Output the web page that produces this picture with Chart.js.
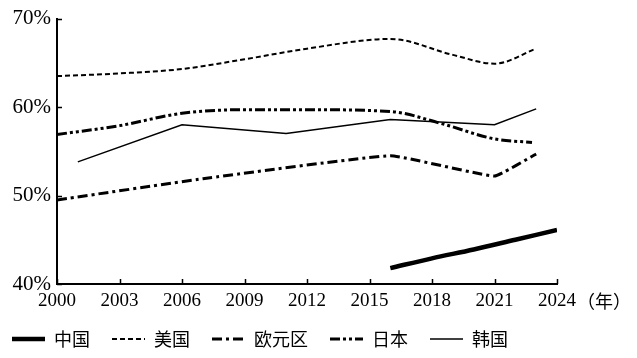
<!DOCTYPE html>
<html>
<head>
<meta charset="utf-8">
<script src="https://cdn.jsdelivr.net/npm/chart.js@4/dist/chart.umd.min.js"></script>
<style>
html,body{margin:0;padding:0;background:#fff;}
#c{display:block;}
</style>
</head>
<body>
<canvas id="c" width="637" height="358"></canvas>
<script>
// ---- data ----
const seriesNames = ['中国', '美国', '欧元区', '日本', '韩国'];
const xTickValues = [2000, 2003, 2006, 2009, 2012, 2015, 2018, 2021, 2024];
const yTickValues = [40, 50, 60, 70];
const yearUnit = '（年）';

const chinaYears  = [2016, 2018, 2020, 2022, 2024];
const chinaValues = [41.8, 42.9, 43.9, 45.0, 46.1];

const usYears  = [2000, 2003, 2006, 2009, 2012, 2016, 2019, 2021, 2023];
const usValues = [63.5, 63.8, 64.3, 65.4, 66.6, 67.7, 65.9, 64.9, 66.6];

const euroYears  = [2000, 2007, 2016, 2021, 2023];
const euroValues = [49.5, 51.9, 54.5, 52.2, 54.7];

const japanYears  = [2000, 2003, 2006, 2009, 2012, 2016, 2018.5, 2021, 2022.8];
const japanValues = [56.9, 57.9, 59.3, 59.7, 59.7, 59.5, 58.1, 56.4, 56.0];

const koreaYears  = [2001, 2006, 2011, 2016, 2021, 2023];
const koreaValues = [53.8, 58.0, 57.0, 58.6, 58.0, 59.8];

function pts(xs, ys) { return xs.map((x, i) => ({ x: x, y: ys[i] })); }

const serif = "'Liberation Serif', 'Times New Roman', serif";
const cjk = "'Noto Sans CJK SC', 'Noto Sans', sans-serif";

const inwardTicks = {
  id: 'inwardTicks',
  afterDraw(chart) {
    const ctx = chart.ctx;
    const xs = chart.scales.x, ys = chart.scales.y;
    const area = chart.chartArea;
    ctx.save();
    ctx.strokeStyle = '#000';
    ctx.lineWidth = 1.5;
    ctx.beginPath();
    xTickValues.forEach(v => {
      const px = Math.round(xs.getPixelForValue(v)) + 0.5;
      ctx.moveTo(px, area.bottom);
      ctx.lineTo(px, area.bottom - 5);
    });
    yTickValues.forEach(v => {
      const py = Math.round(ys.getPixelForValue(v)) + 0.5;
      ctx.moveTo(area.left, py);
      ctx.lineTo(area.left + 5, py);
    });
    ctx.stroke();
    // year unit after the last x label
    const last = xTickValues[xTickValues.length - 1];
    ctx.font = '19px ' + serif;
    const w = ctx.measureText(String(last)).width;
    const px = xs.getPixelForValue(last) + w / 2 + 1;
    ctx.font = '18px ' + cjk;
    ctx.fillStyle = '#000';
    ctx.textAlign = 'left';
    ctx.textBaseline = 'middle';
    ctx.fillText(yearUnit, px, xs.top + 6 + 11);
    ctx.restore();
  }
};

new Chart(document.getElementById('c'), {
  type: 'line',
  data: {
    datasets: [
      { label: seriesNames[0], data: pts(chinaYears, chinaValues), borderColor: '#000', backgroundColor: 'transparent',
        borderWidth: 4.5, cubicInterpolationMode: 'monotone', pointRadius: 0 },
      { label: seriesNames[1], data: pts(usYears, usValues), borderColor: '#000', backgroundColor: 'transparent',
        borderWidth: 2, borderDash: [5, 3], cubicInterpolationMode: 'monotone', pointRadius: 0 },
      { label: seriesNames[2], data: pts(euroYears, euroValues), borderColor: '#000', backgroundColor: 'transparent',
        borderWidth: 3, borderDash: [10, 4, 3, 4], tension: 0.1, pointRadius: 0 },
      { label: seriesNames[3], data: pts(japanYears, japanValues), borderColor: '#000', backgroundColor: 'transparent',
        borderWidth: 3, borderDash: [10, 3, 3, 3, 3, 3], cubicInterpolationMode: 'monotone', pointRadius: 0 },
      { label: seriesNames[4], data: pts(koreaYears, koreaValues), borderColor: '#000', backgroundColor: 'transparent',
        borderWidth: 1.5, tension: 0, pointRadius: 0 }
    ]
  },
  options: {
    responsive: false,
    animation: false,
    layout: { padding: { left: -10, right: 80, top: 17, bottom: 0 } },
    plugins: {
      legend: {
        position: 'bottom',
        align: 'start',
        labels: {
          usePointStyle: true,
          pointStyle: 'line',
          pointStyleWidth: 33,
          boxWidth: 33,
          boxHeight: 10,
          padding: 22,
          color: '#000',
          font: { family: cjk, size: 18 },
          generateLabels: chart => {
            const items = Chart.defaults.plugins.legend.labels.generateLabels(chart);
            items.forEach(it => {
              const ds = chart.data.datasets[it.datasetIndex];
              it.lineDash = ds.borderDash || [];
              it.lineWidth = ds.borderWidth;
              it.strokeStyle = ds.borderColor;
              it.pointStyle = 'line';
            });
            return items;
          }
        }
      },
      tooltip: { enabled: false }
    },
    scales: {
      x: {
        type: 'linear',
        min: 2000, max: 2024,
        afterBuildTicks: s => { s.ticks = xTickValues.map(v => ({ value: v })); },
        afterFit: s => { s.height = 24; },
        grid: { display: false, drawTicks: false },
        border: { display: true, color: '#000', width: 2 },
        ticks: { color: '#000', padding: 6, maxRotation: 0, autoSkip: false,
                 font: { family: serif, size: 19 }, callback: v => String(v) }
      },
      y: {
        min: 40, max: 70,
        afterBuildTicks: s => { s.ticks = yTickValues.map(v => ({ value: v })); },
        afterFit: s => { s.width = 67; },
        grid: { display: false, drawTicks: false },
        border: { display: true, color: '#000', width: 2 },
        ticks: { color: '#000', padding: 6, font: { family: serif, size: 21 }, callback: v => v + '%' }
      }
    }
  },
  plugins: [inwardTicks]
});
</script>
</body>
</html>
